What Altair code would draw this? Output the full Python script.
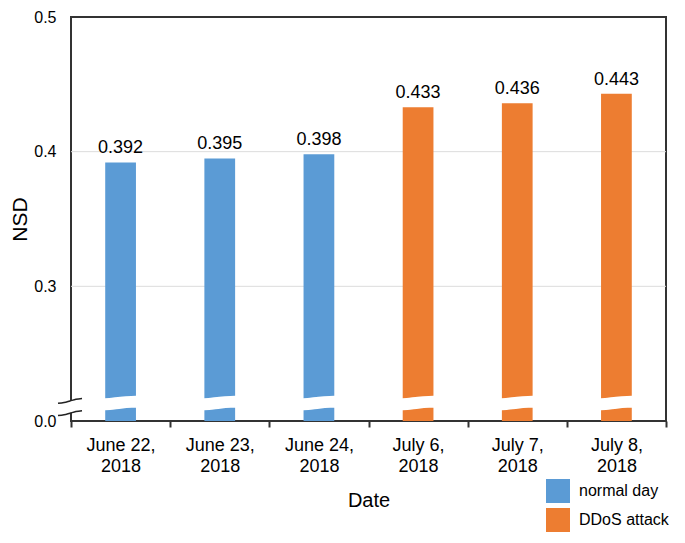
import altair as alt
import pandas as pd

# ---- data ----
dates = ["June 22, 2018", "June 23, 2018", "June 24, 2018",
         "July 6, 2018", "July 7, 2018", "July 8, 2018"]
nsd = [0.392, 0.395, 0.398, 0.433, 0.436, 0.443]
groups = ["normal day", "normal day", "normal day",
          "DDoS attack", "DDoS attack", "DDoS attack"]
group_order = ["normal day", "DDoS attack"]
group_colors = ["#5B9BD5", "#ED7D31"]

# broken axis: the displayed "0.0" sits where 0.2 would be
axis_base = 0.2
y_ticks = [0.2, 0.3, 0.4, 0.5]
grid_vals = [0.3, 0.4]

# axis-break decoration (in data units)
wave_dx = [-0.22, -0.11, 0.0, 0.11, 0.22]
wave_y = [0.2123, 0.2127, 0.2136, 0.2142, 0.2145]
gap_dx = [-0.05, 0.05]
gap_y = 0.2105
tilde_dx = [-0.131, -0.07, -0.01, 0.05, 0.111]
tilde_dy = [-0.0018, -0.0012, 0.0, 0.0012, 0.0018]
tilde_y = [0.2149, 0.2058]

FONT = "Liberation Sans"

df = pd.DataFrame({"date": dates, "nsd": nsd, "group": groups,
                   "base": [axis_base] * len(dates)})
grid_df = pd.DataFrame({"v": grid_vals})

wave_rows = []
for i in range(len(dates)):
    for dx, wy in zip(wave_dx, wave_y):
        wave_rows.append({"px": i + dx, "py": wy, "seg": f"b{i}"})
for dx in gap_dx:
    wave_rows.append({"px": -0.5 + dx, "py": gap_y, "seg": "axis"})
wave_df = pd.DataFrame(wave_rows)

tilde_rows = []
for k, ty in enumerate(tilde_y):
    for dx, dy in zip(tilde_dx, tilde_dy):
        tilde_rows.append({"px": -0.5 + dx, "py": ty + dy, "seg": f"t{k}"})
tilde_df = pd.DataFrame(tilde_rows)

y_scale = alt.Scale(domain=[0.2, 0.5], zero=False, nice=False)
y_axis = alt.Axis(values=y_ticks, labelExpr="datum.value < 0.25 ? '0.0' : format(datum.value, '.1f')",
                  ticks=False, domain=False, grid=False, labelFontSize=16, labelPadding=15,
                  titleFontSize=21, titleFontWeight="normal", titlePadding=3, labelColor="#000",
                  titleColor="#000")


def yenc(field):
    return alt.Y(f"{field}:Q", title="NSD", scale=y_scale, axis=y_axis)


x_scale = alt.Scale(paddingInner=0, paddingOuter=0)
x_axis = alt.Axis(labelAngle=0, tickBand="extent", ticks=True, tickSize=6, tickWidth=2,
                  tickColor="#333", domain=False, labelFontSize=18, labelLineHeight=21,
                  labelPadding=9, titleFontSize=20, titleFontWeight="normal", titlePadding=15,
                  labelColor="#000", titleColor="#000",
                  labelExpr="[substring(datum.label, 0, indexof(datum.label, ',') + 1), "
                            "substring(datum.label, indexof(datum.label, ',') + 2)]")

grid = alt.Chart(grid_df).mark_rule(color="#dcdcdc", strokeWidth=1).encode(y=yenc("v"))

bars = alt.Chart(df).mark_bar(width=alt.RelativeBandSize(0.31)).encode(
    x=alt.X("date:N", sort=dates, title="Date", scale=x_scale, axis=x_axis),
    y=yenc("nsd"),
    y2="base:Q",
    color=alt.Color("group:N", scale=alt.Scale(domain=group_order, range=group_colors),
                    legend=alt.Legend(title=None, orient="none", legendX=475, legendY=462,
                                      symbolType="square", symbolSize=576, symbolStrokeWidth=0,
                                      labelFontSize=16, labelOffset=9, rowPadding=5,
                                      labelColor="#000", labelFont=FONT)),
)

labels = alt.Chart(df).mark_text(dy=-5, baseline="bottom", fontSize=18, font=FONT,
                                 color="#000").encode(
    x=alt.X("date:N", sort=dates, title="Date", scale=x_scale, axis=x_axis),
    y=yenc("nsd"),
    text=alt.Text("nsd:Q", format=".3f"),
)

px_scale = alt.Scale(domain=[-0.5, len(dates) - 0.5], nice=False, zero=False)

wave = alt.Chart(wave_df).mark_line(color="white", strokeWidth=12, interpolate="monotone").encode(
    x=alt.X("px:Q", scale=px_scale, axis=None),
    y=yenc("py"),
    detail="seg:N",
)

tildes = alt.Chart(tilde_df).mark_line(color="#222", strokeWidth=1.5, interpolate="monotone").encode(
    x=alt.X("px:Q", scale=px_scale, axis=None),
    y=yenc("py"),
    detail="seg:N",
)

chart = alt.layer(
    alt.layer(grid, bars, labels),
    alt.layer(wave, tildes),
).resolve_scale(x="independent").properties(
    width=595, height=404,
    padding={"left": 63, "top": 9, "right": 10, "bottom": 112},
    autosize=alt.AutoSizeParams(type="none"),
).configure_view(
    stroke="#333", strokeWidth=2
).configure_axis(
    labelFont=FONT, titleFont=FONT
)

chart.save("out.html", embed_options={"renderer": "svg", "actions": False})
